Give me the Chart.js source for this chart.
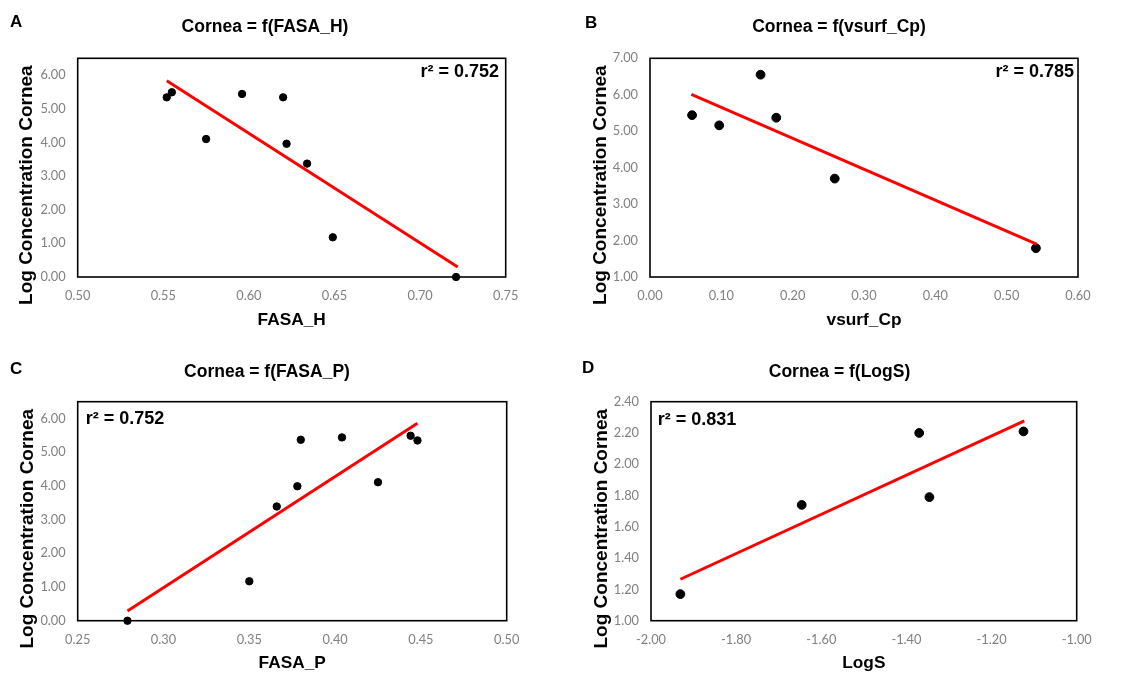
<!DOCTYPE html>
<html lang="en">
<head>
<meta charset="UTF-8" />
<title>Cornea regressions</title>
<script src="https://cdn.jsdelivr.net/npm/chart.js"></script>
<style>
  body {
    margin: 0;
    background: #fff;
    width: 1133px;
    height: 675px;
    position: relative;
    overflow: hidden;
  }
  canvas { position: absolute; }
</style>
</head>
<body>
<canvas id="chartA" width="530" height="337" style="left:0;top:0"></canvas>
<canvas id="chartB" width="538" height="337" style="left:570px;top:0"></canvas>
<canvas id="chartC" width="534" height="338" style="left:0;top:337px"></canvas>
<canvas id="chartD" width="539" height="338" style="left:570px;top:337px"></canvas>

<script>
// A: Cornea vs FASA_H
const fasaH   = [0.552, 0.555, 0.575, 0.596, 0.620, 0.622, 0.634, 0.649, 0.721];
const corneaA = [5.34, 5.49, 4.10, 5.44, 5.34, 3.96, 3.37, 1.18, 0.00];
const trendAx = [0.552, 0.722];
const trendAy = [5.83, 0.30];
const xTicksA = [0.50, 0.55, 0.60, 0.65, 0.70, 0.75];
const yTicksA = [0, 1, 2, 3, 4, 5, 6];

// B: Cornea vs vsurf_Cp
const vsurfCp = [0.059, 0.097, 0.155, 0.177, 0.259, 0.541];
const corneaB = [5.44, 5.16, 6.55, 5.37, 3.70, 1.79];
const trendBx = [0.058, 0.542];
const trendBy = [6.01, 1.90];
const xTicksB = [0, 0.1, 0.2, 0.3, 0.4, 0.5, 0.6];
const yTicksB = [1, 2, 3, 4, 5, 6, 7];

// C: Cornea vs FASA_P
const fasaP   = [0.279, 0.350, 0.366, 0.378, 0.380, 0.404, 0.425, 0.444, 0.448];
const corneaC = [0.00, 1.17, 3.39, 3.99, 5.37, 5.44, 4.11, 5.49, 5.35];
const trendCx = [0.279, 0.448];
const trendCy = [0.29, 5.86];
const xTicksC = [0.25, 0.30, 0.35, 0.40, 0.45, 0.50];
const yTicksC = [0, 1, 2, 3, 4, 5, 6];

// D: Cornea vs LogS
const logS    = [-1.931, -1.646, -1.370, -1.346, -1.125];
const corneaD = [1.17, 1.74, 2.20, 1.79, 2.21];
const trendDx = [-1.931, -1.123];
const trendDy = [1.265, 2.278];
const xTicksD = [-2.0, -1.8, -1.6, -1.4, -1.2, -1.0];
const yTicksD = [1.0, 1.2, 1.4, 1.6, 1.8, 2.0, 2.2, 2.4];

const FONT = '"Liberation Sans", Arial, sans-serif';
const TICK_FONT = 'Lato, "Open Sans", sans-serif';
const Y_LABEL = 'Log Concentration Cornea';
Chart.defaults.font.family = FONT;

const pairs = (xs, ys) => xs.map((x, i) => ({ x: x, y: ys[i] }));

// plot frame, y label, r² note and panel letter
const framePlugin = {
  id: 'frame',
  beforeDatasetsDraw(chart) {
    const { ctx, chartArea: a } = chart;
    ctx.save();
    ctx.strokeStyle = '#000';
    ctx.lineWidth = 1.6;
    ctx.strokeRect(a.left, a.top, a.width, a.height);
    ctx.restore();
  },
  afterDraw(chart, args, opts) {
    const { ctx, chartArea: a } = chart;
    ctx.save();
    ctx.fillStyle = '#000';
    ctx.textBaseline = 'middle';

    // y label sits a little below the middle of the frame
    ctx.save();
    ctx.translate(opts.yLabelX, (a.top + a.bottom) / 2 + 17.5);
    ctx.rotate(-Math.PI / 2);
    ctx.textAlign = 'center';
    ctx.font = 'bold 19px ' + FONT;
    ctx.fillText(Y_LABEL, 0, 0);
    ctx.restore();

    ctx.font = 'bold 18px ' + FONT;
    if (opts.corner === 'right') {
      ctx.textAlign = 'right';
      ctx.fillText(opts.r2, a.right - opts.dx, a.top + opts.dy);
    } else {
      ctx.textAlign = 'left';
      ctx.fillText(opts.r2, a.left + opts.dx, a.top + opts.dy);
    }
    ctx.font = 'bold 17px ' + FONT;
    ctx.textAlign = 'left';
    ctx.fillText(opts.letter, opts.lx, opts.ly);
    ctx.restore();
  }
};

function makePanel(id, p) {
  new Chart(document.getElementById(id), {
    type: 'scatter',
    data: {
      datasets: [
        {
          type: 'line',
          data: pairs(p.tx, p.ty),
          borderColor: '#ff0000',
          borderWidth: 3,
          pointRadius: 0,
          fill: false,
          clip: false
        },
        {
          data: pairs(p.xs, p.ys),
          backgroundColor: '#000',
          borderColor: '#000',
          pointRadius: p.dot,
          clip: false
        }
      ]
    },
    options: {
      responsive: false,
      animation: false,
      layout: { padding: 0 },
      plugins: {
        legend: { display: false },
        tooltip: { enabled: false },
        title: {
          display: true,
          text: p.title,
          color: '#000',
          font: { size: 17.5, weight: 'bold' },
          padding: { top: p.titleTop, bottom: p.titleBottom }
        },
        frame: {
          r2: p.r2, corner: p.corner, dx: p.r2dx, dy: p.r2dy,
          letter: p.letter, lx: p.lx, ly: p.ly, yLabelX: p.yLabelX
        }
      },
      scales: {
        x: {
          type: 'linear',
          position: 'bottom',
          min: p.xTicks[0],
          max: p.xTicks[p.xTicks.length - 1],
          grid: { display: false, drawTicks: false },
          border: { display: false },
          afterBuildTicks: s => { s.ticks = p.xTicks.map(v => ({ value: v })); },
          afterFit: s => { s.height = p.xH; },
          ticks: {
            autoSkip: false,
            maxRotation: 0,
            padding: 11,
            color: '#808080',
            font: { family: TICK_FONT, size: 12.8 },
            callback: v => v.toFixed(2)
          },
          title: {
            display: true,
            text: p.xLabel,
            color: '#000',
            font: { size: 17.3, weight: 'bold' },
            padding: { top: 0, bottom: p.xTitlePad }
          }
        },
        y: {
          type: 'linear',
          position: 'left',
          min: p.yMin,
          max: p.yMax,
          grid: { display: false, drawTicks: false },
          border: { display: false },
          afterBuildTicks: s => { s.ticks = p.yTicks.map(v => ({ value: v })); },
          afterFit: s => { s.width = p.yW; },
          ticks: {
            padding: 12,
            color: '#808080',
            font: { family: TICK_FONT, size: 12.8 },
            callback: v => v.toFixed(2)
          }
        },
        // empty right-hand axis keeping the gap beside the frame
        gap: {
          type: 'linear',
          position: 'right',
          grid: { display: false, drawTicks: false },
          border: { display: false },
          ticks: { display: false },
          afterFit: s => { s.width = p.gap; }
        }
      }
    },
    plugins: [framePlugin]
  });
}

makePanel('chartA', {
  xs: fasaH, ys: corneaA, tx: trendAx, ty: trendAy, dot: 3.7,
  xTicks: xTicksA, yTicks: yTicksA, yMin: 0, yMax: 6.5,
  title: 'Cornea = f(FASA_H)', xLabel: 'FASA_H',
  r2: 'r² = 0.752', corner: 'right', r2dx: 6.7, r2dy: 13.7,
  letter: 'A', lx: 10, ly: 22, yLabelX: 27,
  titleTop: 16.5, titleBottom: 20.8, xH: 60, xTitlePad: 6.6,
  yW: 77.7, gap: 24.3
});

makePanel('chartB', {
  xs: vsurfCp, ys: corneaB, tx: trendBx, ty: trendBy, dot: 4.4,
  xTicks: xTicksB, yTicks: yTicksB, yMin: 1, yMax: 7,
  title: 'Cornea = f(vsurf_Cp)', xLabel: 'vsurf_Cp',
  r2: 'r² = 0.785', corner: 'right', r2dx: 4, r2dy: 13.4,
  letter: 'B', lx: 15, ly: 23.5, yLabelX: 30.5,
  titleTop: 16.5, titleBottom: 20.8, xH: 60, xTitlePad: 6.6,
  yW: 80, gap: 30
});

makePanel('chartC', {
  xs: fasaP, ys: corneaC, tx: trendCx, ty: trendCy, dot: 3.7,
  xTicks: xTicksC, yTicks: yTicksC, yMin: 0, yMax: 6.5,
  title: 'Cornea = f(FASA_P)', xLabel: 'FASA_P',
  r2: 'r² = 0.752', corner: 'left', r2dx: 8, r2dy: 17.6,
  letter: 'C', lx: 10, ly: 32, yLabelX: 27.5,
  titleTop: 24.2, titleBottom: 19.5, xH: 54.3, xTitlePad: 1.6,
  yW: 77.7, gap: 27.3
});

makePanel('chartD', {
  xs: logS, ys: corneaD, tx: trendDx, ty: trendDy, dot: 4.4,
  xTicks: xTicksD, yTicks: yTicksD, yMin: 1, yMax: 2.4,
  title: 'Cornea = f(LogS)', xLabel: 'LogS',
  r2: 'r² = 0.831', corner: 'left', r2dx: 6.7, r2dy: 18.3,
  letter: 'D', lx: 12, ly: 31, yLabelX: 31.5,
  titleTop: 24.2, titleBottom: 19.5, xH: 54.3, xTitlePad: 1.6,
  yW: 81, gap: 32.3
});
</script>
</body>
</html>
